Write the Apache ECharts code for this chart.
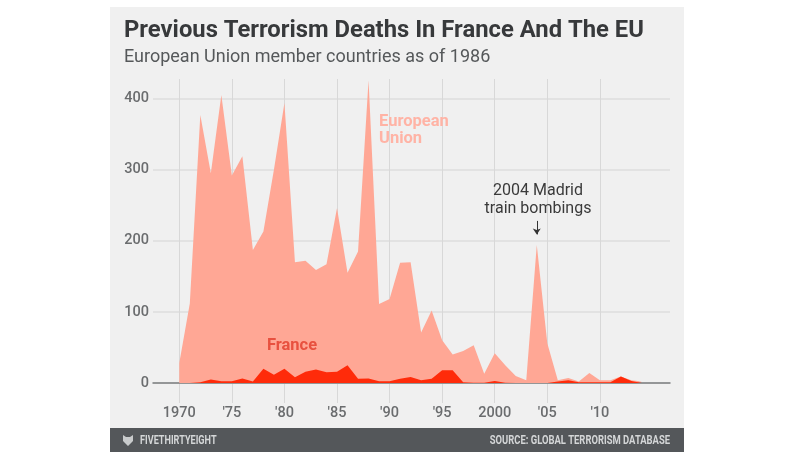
<!DOCTYPE html>
<html><head><meta charset="utf-8">
<style>html,body{margin:0;padding:0;background:#fff}#c{width:800px;height:452px}</style>
<script src="https://cdn.jsdelivr.net/npm/echarts@6/dist/echarts.min.js"></script></head>
<body><div id="c"></div>
<script>
const years = [1970,1971,1972,1973,1974,1975,1976,1977,1978,1979,1980,1981,1982,1983,1984,1985,1986,1987,1988,1989,1990,1991,1992,1993,1994,1995,1996,1997,1998,1999,2000,2001,2002,2003,2004,2005,2006,2007,2008,2009,2010,2011,2012,2013,2014];
const euDeaths = [28,112,377,295,405,292,319,187,213,300,394,170,172,159,167,246,155,185,426,111,118,169,170,71,102,60,40,45,53,13,42,25,10,4,194,56,4,7,2,14,4,4,9,4,2];
const franceDeaths = [0,0,1,5,2.5,2.5,6.5,2,20,11.5,20,8,16,19,15,16,25,6,6.5,2.5,2.5,6,8.5,4,6,18,18,1,0.5,0.5,3,0.5,0,0,0,0,2,4,1,1,1,1,9,3,0];
const xTicks = [1970,1975,1980,1985,1990,1995,2000,2005,2010];
const xTickLabels = {1970:'1970',1975:"'75",1980:"'80",1985:"'85",1990:"'90",1995:"'95",2000:'2000',2005:"'05",2010:"'10"};
const yTicks = [0,100,200,300,400];
const pair = (a) => years.map((y,i)=>[y,a[i]]);
const chart = echarts.init(document.getElementById('c'));
const txt = (x,y,text,font,fill,align,scaleX) => ({type:'text',x,y,z:5,scaleX:scaleX||1,style:{text,font,fill,align:align||'left',verticalAlign:'middle'}});
chart.setOption({
  animation:false,
  backgroundColor:'#ffffff',
  textStyle:{fontFamily:'Roboto'},
  graphic:[
    {type:'rect',z:-10,silent:true,shape:{x:110,y:7,width:574,height:421},style:{fill:'#f0f0f0'}},
    {type:'rect',z:-10,silent:true,shape:{x:110,y:428,width:574,height:24},style:{fill:'#54575a'}},
    txt(124,31.5,'Previous Terrorism Deaths In France And The EU','bold 23.8px Roboto','#37393b'),
    txt(124,57,'European Union member countries as of 1986','18px Roboto','#55585a'),
    txt(379,121.5,'European','bold 16.5px Roboto','#ffb3a5'),
    txt(379,139,'Union','bold 16.5px Roboto','#ffb3a5'),
    txt(292,346,'France','bold 16.5px Roboto','#e8513f','center'),
    txt(538,190.5,'2004 Madrid','16px Roboto','#3a3a3a','center'),
    txt(538,209,'train bombings','16px Roboto','#3a3a3a','center'),
    {type:'polygon',z:5,silent:true,shape:{points:[[123,435],[126,437],[130,437],[133,435],[133,441],[128,446],[123,441]]},style:{fill:'#c9cbcc'}},
    txt(140,441,'FIVETHIRTYEIGHT','bold 12px Roboto','#d4d6d7','left',0.76),
    txt(670,441,'SOURCE: GLOBAL TERRORISM DATABASE','bold 12px Roboto','#d4d6d7','right',0.785)
  ],
  grid:{left:153,right:130,top:79,bottom:49},
  xAxis:{type:'value',min:1967.5,max:2016.67,
    axisLine:{show:true,onZero:true,lineStyle:{color:'#7b7d7f',width:1.5}},
    axisTick:{show:false,customValues:xTicks},
    axisLabel:{customValues:xTicks,formatter:v=>xTickLabels[v]||'',color:'#6a6c6e',fontSize:14.5,fontFamily:'Roboto',fontWeight:500,margin:3},
    splitLine:{show:true,lineStyle:{color:'#d8d8d8',width:1}}},
  yAxis:{type:'value',min:-28.1,max:427.6,
    axisLine:{show:false},
    axisTick:{show:false,customValues:yTicks},
    axisLabel:{customValues:yTicks,color:'#6a6c6e',fontSize:14.5,fontFamily:'Roboto',fontWeight:500,margin:4},
    splitLine:{show:true,lineStyle:{color:'#dedede',width:1.5}}},
  series:[
    {name:'European Union',type:'line',data:pair(euDeaths),showSymbol:false,lineStyle:{width:0},areaStyle:{color:'#ffa795',opacity:1},z:2,
     markLine:{silent:true,symbol:['none','arrow'],symbolSize:6,label:{show:false},lineStyle:{color:'#333',width:1,type:'solid'},
       data:[[{coord:[2004,228]},{coord:[2004,209]}]]}},
    {name:'France',type:'line',data:pair(franceDeaths),showSymbol:false,lineStyle:{width:0},areaStyle:{color:'#ff2b0a',opacity:1},z:3}
  ]
});
</script></body></html>
